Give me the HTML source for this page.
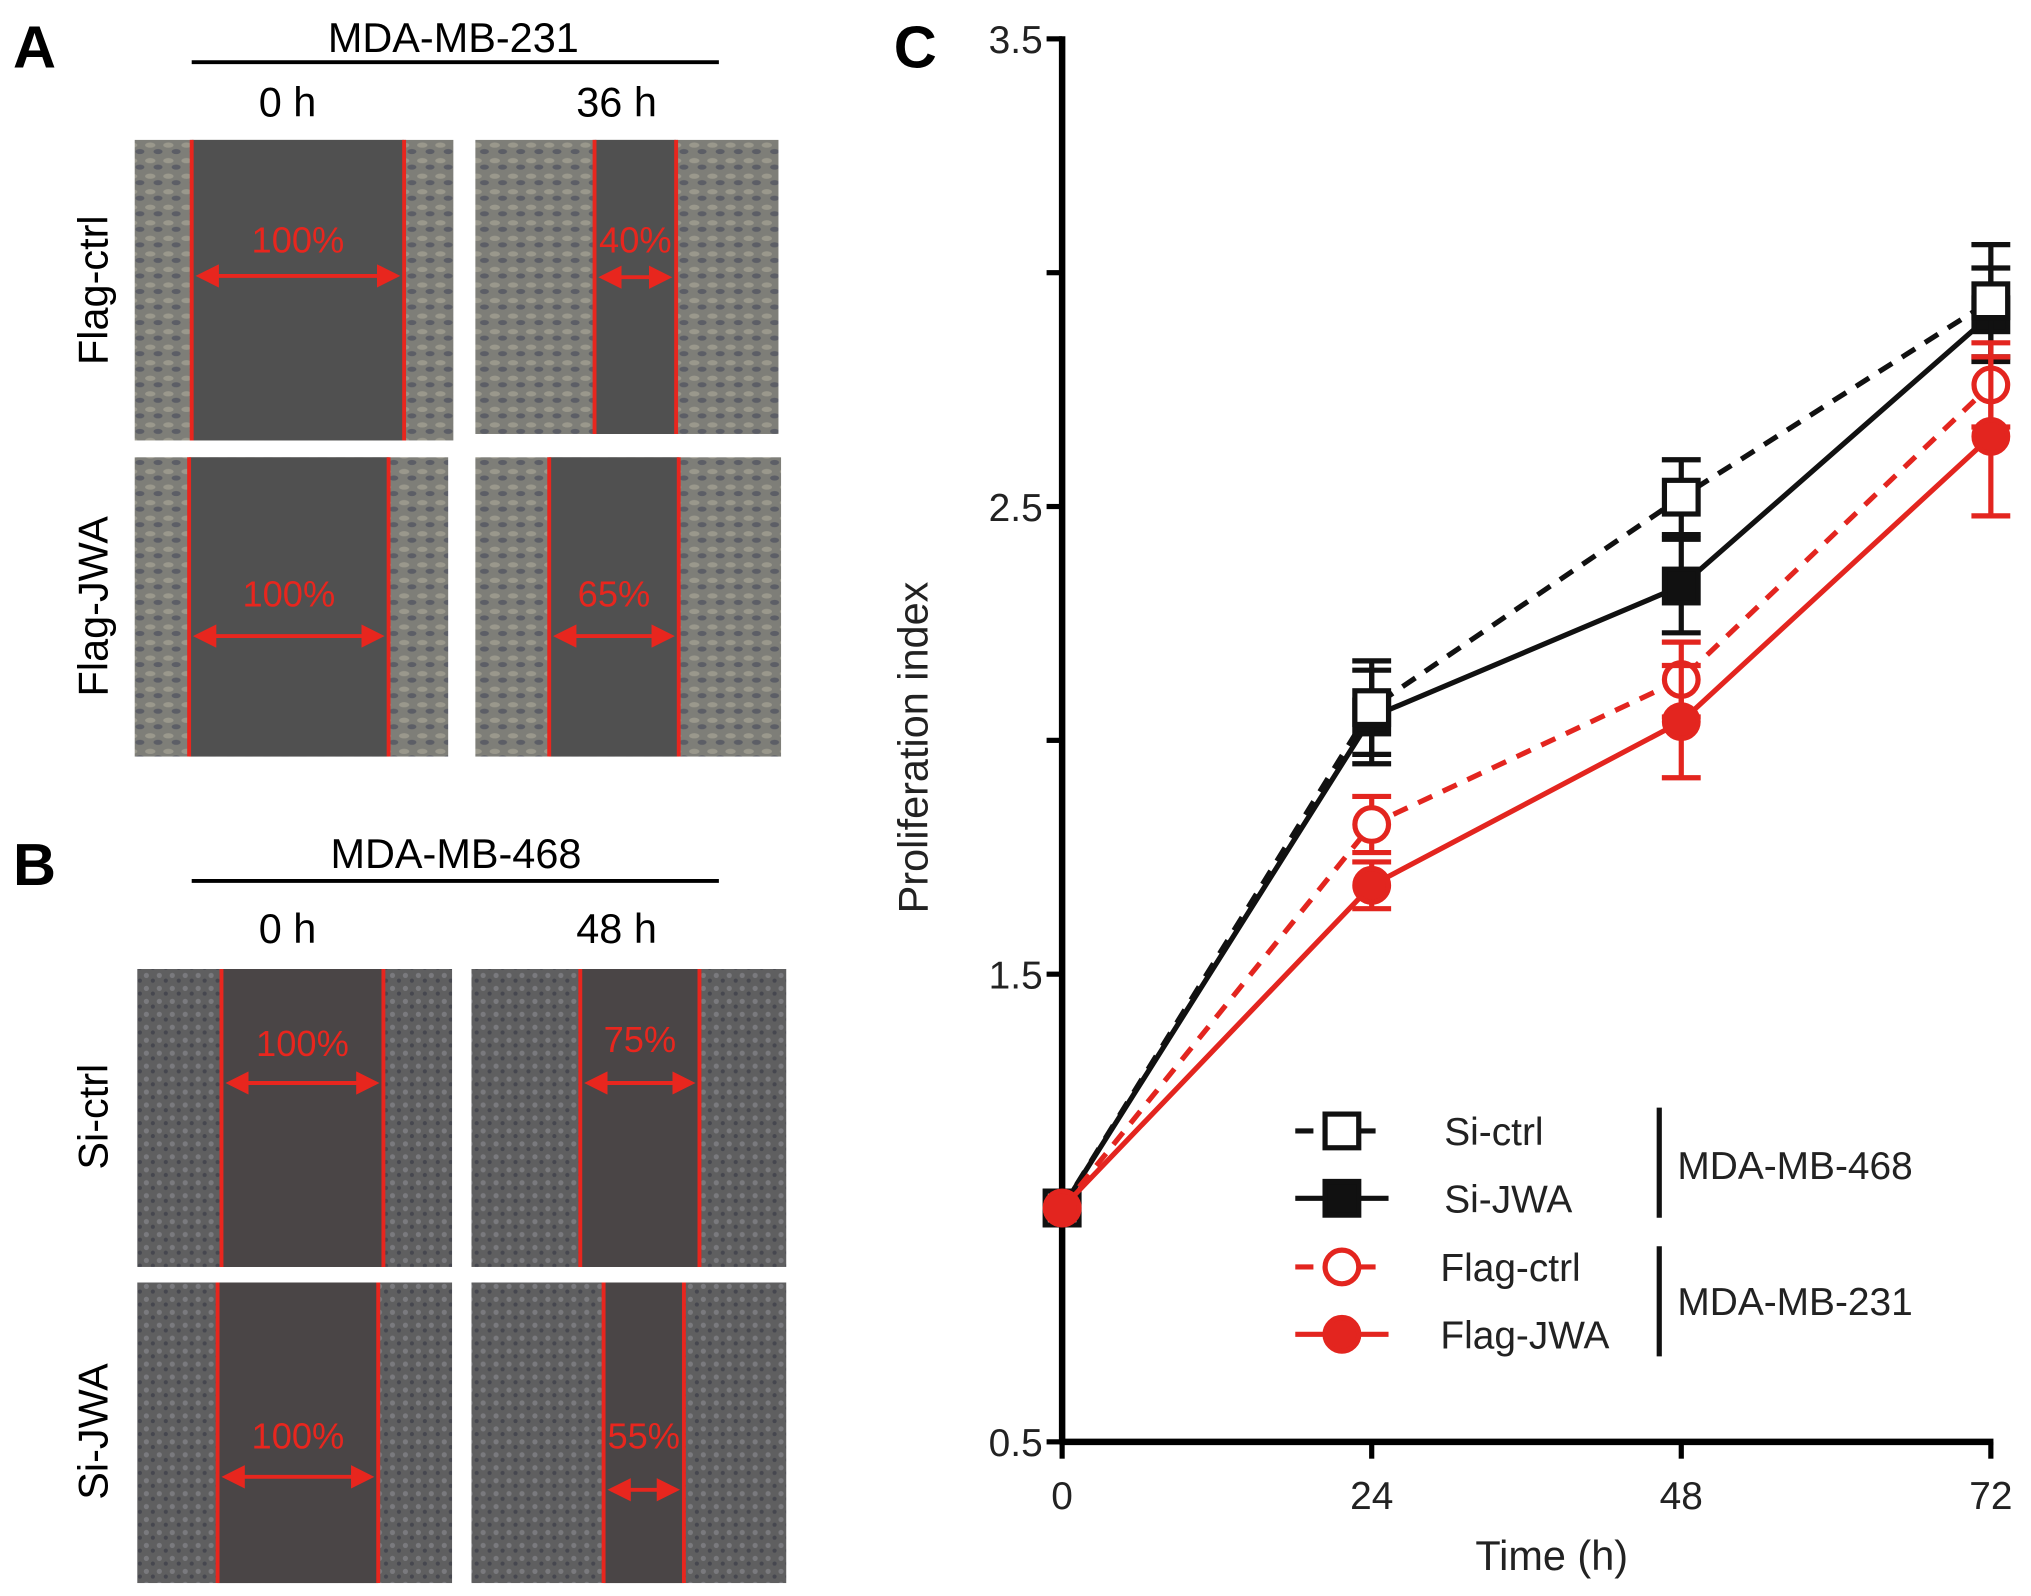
<!DOCTYPE html>
<html><head><meta charset="utf-8"><style>
html,body{margin:0;padding:0;background:#fff}
svg{display:block;font-family:"Liberation Sans",Arial,sans-serif}
</style></head><body>
<svg width="2031" height="1596" viewBox="0 0 1568 1232" preserveAspectRatio="none">
<defs>
<pattern id="cells" width="14" height="12" patternUnits="userSpaceOnUse">
<rect width="14" height="12" fill="#7e7e78"/>
<ellipse cx="4" cy="4" rx="4" ry="2" fill="#9a988c"/>
<ellipse cx="10" cy="9" rx="3.5" ry="2" fill="#5c5e66"/>
</pattern>
<pattern id="cellsB" width="10" height="10" patternUnits="userSpaceOnUse">
<rect width="10" height="10" fill="#5f5f60"/>
<circle cx="3" cy="3" r="2" fill="#7a7a7e"/>
<circle cx="8" cy="7" r="1.6" fill="#46474f"/>
</pattern>
<marker id="ar" markerWidth="6" markerHeight="6" refX="5" refY="3" orient="auto-start-reverse"><path d="M0,0 L6,3 L0,6z" fill="#e8261e"/></marker>
</defs>
<g id="panels"></g>
<g id="chart"></g>
</svg>
<script>
const NS='http://www.w3.org/2000/svg';
function mk(p,t,a,txt){const e=document.createElementNS(NS,t);for(const k in a)e.setAttribute(k,a[k]);if(txt!==undefined)e.textContent=txt;p.appendChild(e);return e;}
const P=document.getElementById('panels');
let e;
e=mk(P,'text',{x:10,y:52,'font-size':46,'font-weight':'bold'},'A');

e=mk(P,'text',{x:10,y:683,'font-size':46,'font-weight':'bold'},'B');

e=mk(P,'text',{x:690,y:52,'font-size':46,'font-weight':'bold'},'C');

const heads=[['MDA-MB-231',350,40,48,'0 h','36 h',90],['MDA-MB-468',352,670,680,'0 h','48 h',728]];
heads.forEach(h=>{
 e=mk(P,'text',{x:h[1],y:h[2],'font-size':32,'text-anchor':'middle'},h[0]);
 
 mk(P,'line',{x1:148,x2:555,y1:h[3],y2:h[3],stroke:'#000','stroke-width':3});
 e=mk(P,'text',{x:222,y:h[6],'font-size':32,'text-anchor':'middle'},h[4]);
 
 e=mk(P,'text',{x:476,y:h[6],'font-size':32,'text-anchor':'middle'},h[5]);
 
});
const imgs=[
 [104,350,108,340,148,312,213,'100%',195,'cells'],
 [367,601,108,335,459,522,214,'40%',195,'cells'],
 [104,346,353,584,146,300,491,'100%',468,'cells'],
 [367,603,353,584,424,524,491,'65%',468,'cells'],
 [106,349,748,978,171,296,836,'100%',815,'cellsB'],
 [364,607,748,978,448,540,836,'75%',812,'cellsB'],
 [106,349,990,1222,168,292,1140,'100%',1118,'cellsB'],
 [364,607,990,1222,466,528,1150,'55%',1118,'cellsB']];
imgs.forEach(m=>{
 const g=mk(P,'g',{});
 
 mk(g,'rect',{x:m[0],y:m[2],width:m[1]-m[0],height:m[3]-m[2],fill:'url(#'+m[9]+')'});
 mk(g,'rect',{x:m[4],y:m[2],width:m[5]-m[4],height:m[3]-m[2],fill:m[9]=='cells'?'#505050':'#4a4546'});
 mk(g,'line',{x1:m[4],x2:m[4],y1:m[2],y2:m[3],stroke:'#e8261e','stroke-width':3});
 mk(g,'line',{x1:m[5],x2:m[5],y1:m[2],y2:m[3],stroke:'#e8261e','stroke-width':3});
 mk(g,'line',{x1:m[4]+6,x2:m[5]-6,y1:m[6],y2:m[6],stroke:'#e8261e','stroke-width':3,'marker-start':'url(#ar)','marker-end':'url(#ar)'});
 mk(g,'text',{x:(m[4]+m[5])/2,y:m[8],'font-size':28,fill:'#e8261e','text-anchor':'middle'},m[7]);
});
[['Flag-ctrl',224],['Flag-JWA',468],['Si-ctrl',862],['Si-JWA',1105]].forEach(r=>{
 e=mk(P,'text',{x:0,y:0,'font-size':32,'text-anchor':'middle',transform:`translate(83,${r[1]}) rotate(-90)`},r[0]);
 
});

const times=[0,24,48,72];
const siCtrl=[1.0,2.07,2.52,2.94];
const siCtrlErr=[0,0.1,0.08,0.12];
const siJwa=[1.0,2.05,2.33,2.91];
const siJwaErr=[0,0.1,0.1,0.1];
const flagCtrl=[1.0,1.82,2.13,2.76];
const flagCtrlErr=[0,0.06,0.08,0.09];
const flagJwa=[1.0,1.69,2.04,2.65];
const flagJwaErr=[0,0.05,0.12,0.17];
const yTicks=[0.5,1.5,2.5,3.5];
const yTickLabels=['0.5','1.5','2.5','3.5'];
const xTickLabels=['0','24','48','72'];

const X=t=>820+(t-0)/72*(1537-820);
const Y=v=>1113-(v-0.5)/3*(1113-30);
const C=document.getElementById('chart');
e=mk(C,'line',{x1:820,x2:820,y1:28,y2:1115,stroke:'#000','stroke-width':5});

e=mk(C,'line',{x1:818,x2:1539,y1:1113,y2:1113,stroke:'#000','stroke-width':5});

for(let v=0.5;v<=3.51;v+=0.5){mk(C,'line',{x1:808,x2:820,y1:Y(v),y2:Y(v),stroke:'#000','stroke-width':4});}
yTicks.forEach((v,i)=>{
 e=mk(C,'text',{x:805,y:Y(v)+11,'font-size':30,'text-anchor':'end',fill:'#222'},yTickLabels[i]);
 
});
times.forEach((t,i)=>{
 mk(C,'line',{x1:X(t),x2:X(t),y1:1113,y2:1126,stroke:'#000','stroke-width':4});
 e=mk(C,'text',{x:X(t),y:1165,'font-size':30,'text-anchor':'middle',fill:'#222'},xTickLabels[i]);
 
});
e=mk(C,'text',{x:0,y:0,'font-size':32,'text-anchor':'middle',fill:'#222',transform:'translate(716,577) rotate(-90)'},'Proliferation index');

e=mk(C,'text',{x:1198,y:1212,'font-size':32,'text-anchor':'middle',fill:'#222'},'Time (h)');


const series=[
 ['si-jwa',siJwa,siJwaErr,'#111','','sq',true],
 ['si-ctrl',siCtrl,siCtrlErr,'#111','12,9','sq',false],
 ['flag-ctrl',flagCtrl,flagCtrlErr,'#e3251f','12,9','ci',false],
 ['flag-jwa',flagJwa,flagJwaErr,'#e3251f','','ci',true]];
function marker(g,x,y,s){
 if(s[5]=='sq') return mk(g,'rect',{x:x-13,y:y-13,width:26,height:26,fill:s[6]?s[3]:'#fff',stroke:s[3],'stroke-width':4});
 return mk(g,'circle',{cx:x,cy:y,r:13,fill:s[6]?s[3]:'#fff',stroke:s[3],'stroke-width':4});
}
series.forEach(s=>{
 const g=mk(C,'g',{});
 
 const pts=times.map((t,i)=>X(t)+','+Y(s[1][i])).join(' ');
 const ln=mk(g,'polyline',{points:pts,fill:'none',stroke:s[3],'stroke-width':4,'stroke-dasharray':s[4]});
 
 times.forEach((t,i)=>{
  if(s[2][i]>0){
   const x=X(t),hi=Y(s[1][i]+s[2][i]),lo=Y(s[1][i]-s[2][i]);
   const eb=mk(g,'path',{d:`M${x},${hi}V${lo}M${x-15},${hi}H${x+15}M${x-15},${lo}H${x+15}`,stroke:s[3],'stroke-width':4,fill:'none'});
   
  }
  const m=marker(g,X(t),Y(s[1][i]),s);
  
 });
});
const L=mk(C,'g',{});

const legSeries=[series[1],series[0],series[2],series[3]];
const legLabels=['Si-ctrl','Si-JWA','Flag-ctrl','Flag-JWA'];
const legY=[873,925,978,1030];
legSeries.forEach((s,i)=>{
 const g=mk(L,'g',{});
 
 mk(g,'line',{x1:1000,x2:1072,y1:legY[i],y2:legY[i],stroke:s[3],'stroke-width':4,'stroke-dasharray':s[4]?'14,10':''});
 marker(g,1036,legY[i],s);
 mk(g,'text',{x:s[5]=='sq'?1115:1112,y:legY[i]+11,'font-size':30,fill:'#222'},legLabels[i]);
});
mk(L,'line',{x1:1281,x2:1281,y1:855,y2:940,stroke:'#111','stroke-width':4});
mk(L,'line',{x1:1281,x2:1281,y1:962,y2:1047,stroke:'#111','stroke-width':4});
mk(L,'text',{x:1295,y:910,'font-size':30,fill:'#222'},'MDA-MB-468');
mk(L,'text',{x:1295,y:1015,'font-size':30,fill:'#222'},'MDA-MB-231');
</script>
</body></html>
